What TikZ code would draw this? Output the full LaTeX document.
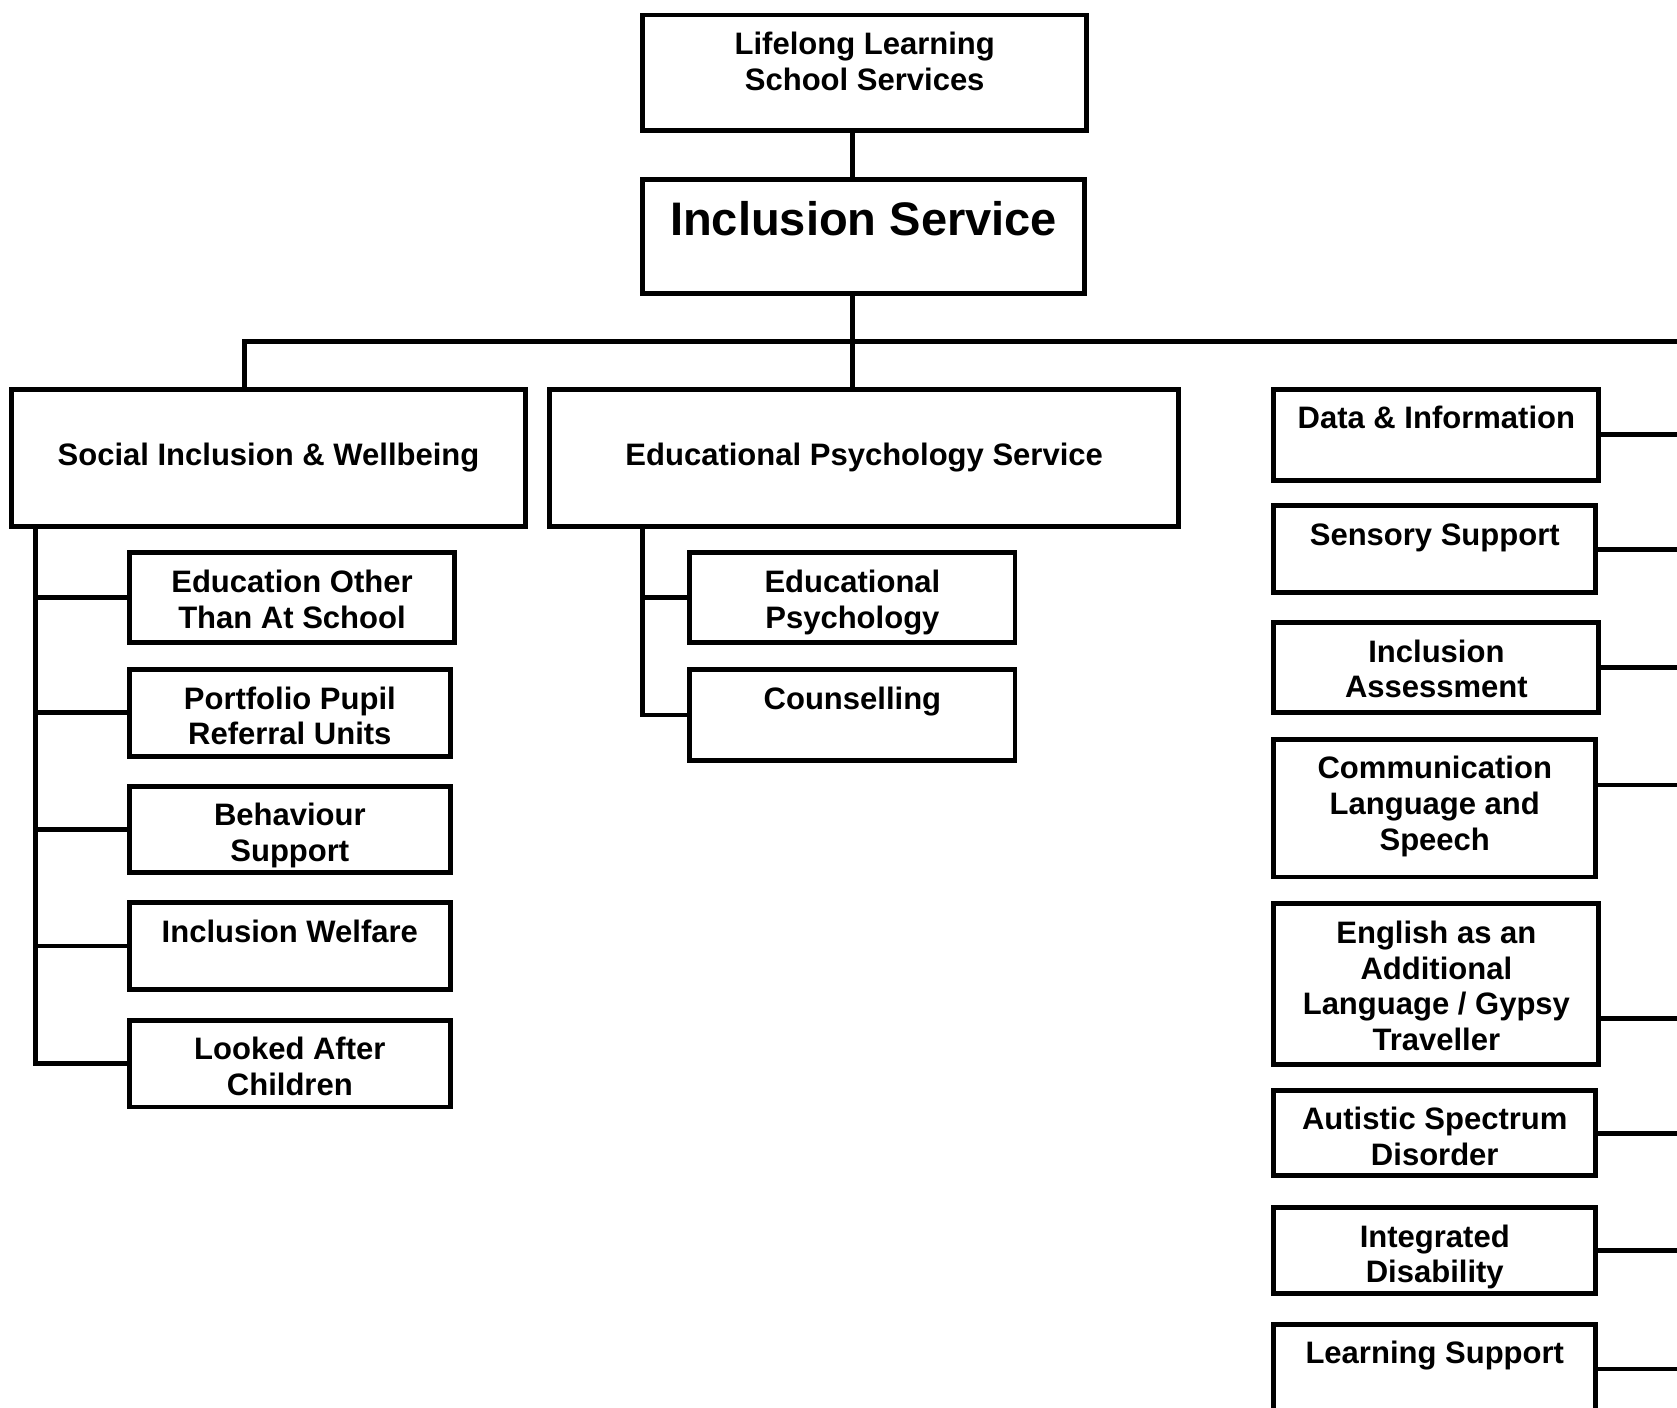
\documentclass[tikz,border=0pt]{standalone}
\usepackage{fontspec}
\setmainfont{Liberation Sans}
\tikzset{
  obox/.style={draw, line width=4.6pt, inner sep=0pt, outer sep=0pt, anchor=north west,
    font=\fontsize{29}{33.5}\selectfont\bfseries},
  conn/.style={line width=4.6pt, line cap=rect}
}
% name, x1, y1, x2, y2, first-baseline offset, text
\newcommand\obox[7]{%
  \node[obox] (#1) at ({#2+2},{#3+2})
   {\parbox[t][\dimexpr #5pt-#3pt-4pt\relax][t]{\dimexpr #4pt-#2pt-4pt\relax}{\centering\rule{0pt}{\dimexpr #6pt-2pt\relax}#7\par}};}
\begin{document}
\begin{tikzpicture}[x=1pt,y=-1pt]
\useasboundingbox (0,0) rectangle (1568,1316);
\clip (0,0) rectangle (1568,1316);
\fill[white] (0,0) rectangle (1568,1316);

\obox{ll}{599}{12}{1018}{124}{39.4}{Lifelong Learning\\School Services}
\obox{inc}{599}{166}{1016}{276}{54}{\fontsize{44}{50}\selectfont Inclusion Service}
\obox{sib}{9}{362}{493}{494}{73}{Social Inclusion \& Wellbeing}
\obox{eps}{512}{362}{1104}{494}{73}{Educational Psychology Service}

\obox{eot}{119}{515}{427}{603}{39}{Education Other\\Than At School}
\obox{ppr}{119}{624}{423}{709}{39}{Portfolio Pupil\\Referral Units}
\obox{bhs}{119}{733}{423}{818}{39}{Behaviour\\Support}
\obox{iwf}{119}{842}{423}{927}{39}{Inclusion Welfare}
\obox{lac}{119}{952}{423}{1037}{39}{Looked After\\Children}

\obox{edp}{643}{515}{951}{603}{39}{Educational\\Psychology}
\obox{cou}{643}{624}{951}{713}{39}{Counselling}

\obox{dat}{1189}{362}{1497}{451}{39}{Data \& Information}
\obox{sss}{1189}{471}{1494}{556}{39}{Sensory Support}
\obox{ias}{1189}{580}{1497}{668}{39}{Inclusion\\Assessment}
\obox{cls}{1189}{689}{1494}{822}{39}{Communication\\Language and\\Speech}
\obox{eal}{1189}{843}{1497}{997}{39}{English as an\\Additional\\Language / Gypsy\\Traveller}
\obox{asd}{1189}{1018}{1494}{1101}{38}{Autistic Spectrum\\Disorder}
\obox{idy}{1189}{1127}{1494}{1211}{39}{Integrated\\Disability}
\obox{lsp}{1189}{1236}{1494}{1324}{39}{Learning Support}

\coordinate (tr) at (797,319);
\coordinate (busL) at (229,319);
\coordinate (busR) at (1585,319);
\coordinate (sv) at (33,0);
\coordinate (ev) at (601,0);
\coordinate (edge) at (1585,0);

\draw[conn] (ll.south -| tr) -- (inc.north -| tr);
\draw[conn] (inc.south -| tr) -- (eps.north -| tr);
\draw[conn] (sib.north -| busL) -- (busL) -- (busR);

\draw[conn] (sib.south -| sv) -- (lac.west -| sv);
\foreach \n in {eot,ppr,bhs,iwf,lac} \draw[conn] (\n.west -| sv) -- (\n.west);

\draw[conn] (eps.south -| ev) -- (cou.west -| ev);
\foreach \n in {edp,cou} \draw[conn] (\n.west -| ev) -- (\n.west);

\foreach \n in {dat,sss,ias,asd,idy,lsp} \draw[conn] (\n.east) -- (\n.east -| edge);
\draw[conn] ([yshift=21.5pt]cls.east) -- ([yshift=21.5pt]cls.east -| edge);
\draw[conn] ([yshift=-32pt]eal.east) -- ([yshift=-32pt]eal.east -| edge);
\end{tikzpicture}
\end{document}
